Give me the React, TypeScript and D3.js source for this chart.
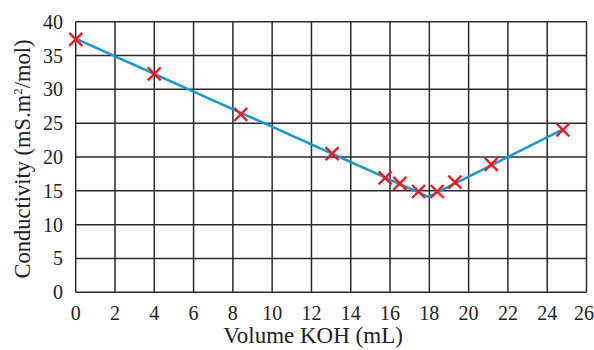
import React from "react";
import * as d3 from "d3";

const volumes = [0, 4.0, 8.4, 13.05, 15.75, 16.5, 17.45, 18.4, 19.3, 21.15, 24.8];
const conductivities = [37.4, 32.3, 26.3, 20.5, 16.9, 16.1, 14.9, 14.9, 16.3, 18.9, 24.0];
const fitX = [0, 17.95, 24.8];
const fitY = [37.5, 14.1, 24.1];
const xTicks = [0, 2, 4, 6, 8, 10, 12, 14, 16, 18, 20, 22, 24, 26];
const yTicks = [0, 5, 10, 15, 20, 25, 30, 35, 40];

const W = 594, H = 350;
const left = 75.7, right = 586.5, top = 21.7, bottom = 292.3;
const font = "'Liberation Serif', 'Times New Roman', serif";

export default function App() {
  const x = d3.scaleLinear().domain([0, 26]).range([left, right]);
  const y = d3.scaleLinear().domain([0, 40]).range([bottom, top]);
  const line = d3.line<number>().x((d, i) => x(fitX[i])).y((d, i) => y(fitY[i]));
  const s = 6.5;
  return (
    <svg width={W} height={H} style={{ position: "absolute", left: 0, top: 0, background: "#fff" }}>
      <g stroke="#2b2b2b" strokeWidth={1.5}>
        {xTicks.map((t) => (
          <line key={"gx" + t} x1={x(t)} x2={x(t)} y1={y(40)} y2={y(0)} />
        ))}
        {yTicks.map((t) => (
          <line key={"gy" + t} x1={x(0)} x2={x(26)} y1={y(t)} y2={y(t)} />
        ))}
      </g>
      <path d={line(fitX) || ""} fill="none" stroke="#1797d2" strokeWidth={2.5} />
      <g stroke="#ec1c24" strokeWidth={2.4}>
        {volumes.map((v, i) => (
          <g key={"m" + i} transform={`translate(${x(v)},${y(conductivities[i])})`}>
            <line x1={-s} y1={-s} x2={s} y2={s} />
            <line x1={-s} y1={s} x2={s} y2={-s} />
          </g>
        ))}
      </g>
      <g fontFamily={font} fontSize={20} fill="#222">
        {xTicks.map((t) => (
          <text key={"tx" + t} x={Math.min(x(t), 584)} y={bottom + 28} textAnchor="middle">{t}</text>
        ))}
        {yTicks.map((t) => (
          <text key={"ty" + t} x={63} y={y(t) + 7} textAnchor="end">{t}</text>
        ))}
        <text x={313} y={343} textAnchor="middle" fontSize={23}>Volume KOH (mL)</text>
        <text transform={`translate(30,${(top + bottom) / 2 + 2}) rotate(-90)`} textAnchor="middle" fontSize={22.5}>
          Conductivity (mS.m<tspan dy={-8} fontSize={13}>2</tspan><tspan dy={8}>/mol)</tspan>
        </text>
      </g>
    </svg>
  );
}
